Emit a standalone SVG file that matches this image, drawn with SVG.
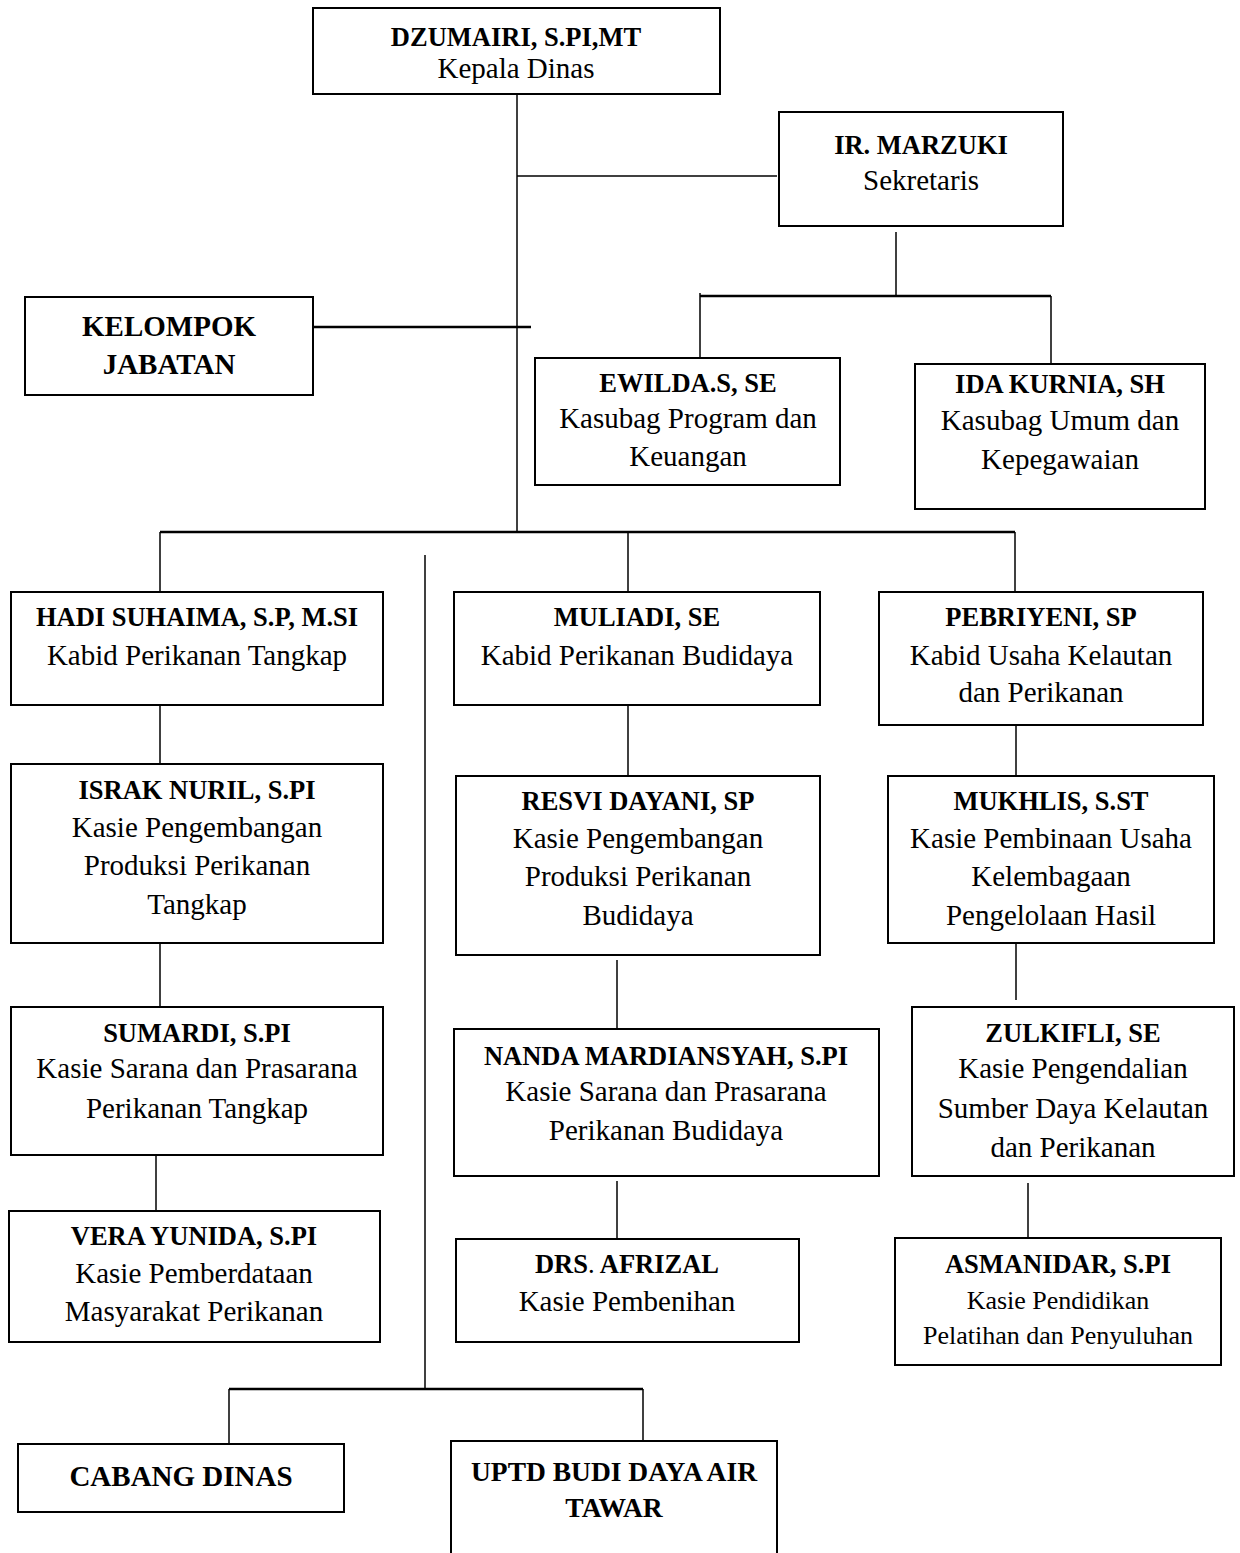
<svg xmlns="http://www.w3.org/2000/svg" width="1240" height="1553" viewBox="0 0 1240 1553">
<style>
.box{fill:#fff;stroke:#000;stroke-width:2}
.n{font-family:"Liberation Serif","Times New Roman",serif;font-weight:bold;font-size:26.5px;text-anchor:middle;fill:#000}
.t{font-family:"Liberation Serif","Times New Roman",serif;font-size:29px;text-anchor:middle;fill:#000}
.big{font-size:29px}
.sm{font-size:26px}
.cab{font-size:29px}
.up{font-size:27.5px}
.c{stroke:#000;stroke-width:1.5;fill:none}
.bus{stroke:#000;stroke-width:2.5;fill:none}
</style>
<rect width="1240" height="1553" fill="#fff"/>
<g id="connectors">
<line class="c" x1="517" y1="94" x2="517" y2="532"/>
<line class="c" x1="517" y1="176" x2="777" y2="176"/>
<line class="bus" x1="313" y1="327" x2="531" y2="327"/>
<line class="c" x1="896" y1="232" x2="896" y2="296"/>
<line class="bus" x1="700" y1="296" x2="1051" y2="296"/>
<line class="c" x1="700" y1="293" x2="700" y2="358"/>
<line class="c" x1="1051" y1="296" x2="1051" y2="364"/>
<line class="bus" x1="160" y1="532" x2="1015" y2="532"/>
<line class="c" x1="160" y1="532" x2="160" y2="592"/>
<line class="c" x1="628" y1="532" x2="628" y2="592"/>
<line class="c" x1="1015" y1="532" x2="1015" y2="592"/>
<line class="c" x1="425" y1="555" x2="425" y2="1389"/>
<line class="bus" x1="229" y1="1389" x2="643" y2="1389"/>
<line class="c" x1="229" y1="1389" x2="229" y2="1444"/>
<line class="c" x1="643" y1="1389" x2="643" y2="1441"/>
<line class="c" x1="160" y1="705" x2="160" y2="764"/>
<line class="c" x1="160" y1="943" x2="160" y2="1007"/>
<line class="c" x1="156" y1="1155" x2="156" y2="1211"/>
<line class="c" x1="628" y1="705" x2="628" y2="776"/>
<line class="c" x1="617" y1="960" x2="617" y2="1029"/>
<line class="c" x1="617" y1="1181" x2="617" y2="1239"/>
<line class="c" x1="1016" y1="725" x2="1016" y2="776"/>
<line class="c" x1="1016" y1="943" x2="1016" y2="1000"/>
<line class="c" x1="1028" y1="1183" x2="1028" y2="1238"/>
</g>
<g id="kepala">
<rect class="box" x="313" y="8" width="407" height="86"/>
<text class="n" x="516" y="46">DZUMAIRI, S.PI,MT</text>
<text class="t" x="516" y="78">Kepala Dinas</text>
</g>
<g id="sekretaris">
<rect class="box" x="779" y="112" width="284" height="114"/>
<text class="n" x="921" y="154">IR. MARZUKI</text>
<text class="t" x="921" y="190">Sekretaris</text>
</g>
<g id="kelompok">
<rect class="box" x="25" y="297" width="288" height="98"/>
<text class="n big" x="169" y="336">KELOMPOK</text>
<text class="n big" x="169" y="374">JABATAN</text>
</g>
<g id="ewilda">
<rect class="box" x="535" y="358" width="305" height="127"/>
<text class="n" x="688" y="392">EWILDA.S, SE</text>
<text class="t" x="688" y="428">Kasubag Program dan</text>
<text class="t" x="688" y="466">Keuangan</text>
</g>
<g id="ida">
<rect class="box" x="915" y="364" width="290" height="145"/>
<text class="n" x="1060" y="393">IDA KURNIA, SH</text>
<text class="t" x="1060" y="430">Kasubag Umum dan</text>
<text class="t" x="1060" y="469">Kepegawaian</text>
</g>
<g id="hadi">
<rect class="box" x="11" y="592" width="372" height="113"/>
<text class="n" x="197" y="626">HADI SUHAIMA, S.P, M.SI</text>
<text class="t" x="197" y="665">Kabid Perikanan Tangkap</text>
</g>
<g id="muliadi">
<rect class="box" x="454" y="592" width="366" height="113"/>
<text class="n" x="637" y="626">MULIADI, SE</text>
<text class="t" x="637" y="665">Kabid Perikanan Budidaya</text>
</g>
<g id="pebriyeni">
<rect class="box" x="879" y="592" width="324" height="133"/>
<text class="n" x="1041" y="626">PEBRIYENI, SP</text>
<text class="t" x="1041" y="665">Kabid Usaha Kelautan</text>
<text class="t" x="1041" y="702">dan Perikanan</text>
</g>
<g id="israk">
<rect class="box" x="11" y="764" width="372" height="179"/>
<text class="n" x="197" y="799">ISRAK NURIL, S.PI</text>
<text class="t" x="197" y="837">Kasie Pengembangan</text>
<text class="t" x="197" y="875">Produksi Perikanan</text>
<text class="t" x="197" y="914">Tangkap</text>
</g>
<g id="resvi">
<rect class="box" x="456" y="776" width="364" height="179"/>
<text class="n" x="638" y="810">RESVI DAYANI, SP</text>
<text class="t" x="638" y="848">Kasie Pengembangan</text>
<text class="t" x="638" y="886">Produksi Perikanan</text>
<text class="t" x="638" y="925">Budidaya</text>
</g>
<g id="mukhlis">
<rect class="box" x="888" y="776" width="326" height="167"/>
<text class="n" x="1051" y="810">MUKHLIS, S.ST</text>
<text class="t" x="1051" y="848">Kasie Pembinaan Usaha</text>
<text class="t" x="1051" y="886">Kelembagaan</text>
<text class="t" x="1051" y="925">Pengelolaan Hasil</text>
</g>
<g id="sumardi">
<rect class="box" x="11" y="1007" width="372" height="148"/>
<text class="n" x="197" y="1042">SUMARDI, S.PI</text>
<text class="t" x="197" y="1078">Kasie Sarana dan Prasarana</text>
<text class="t" x="197" y="1118">Perikanan Tangkap</text>
</g>
<g id="nanda">
<rect class="box" x="454" y="1029" width="425" height="147"/>
<text class="n" x="666" y="1065">NANDA MARDIANSYAH, S.PI</text>
<text class="t" x="666" y="1101">Kasie Sarana dan Prasarana</text>
<text class="t" x="666" y="1140">Perikanan Budidaya</text>
</g>
<g id="zulkifli">
<rect class="box" x="912" y="1007" width="322" height="169"/>
<text class="n" x="1073" y="1042">ZULKIFLI, SE</text>
<text class="t" x="1073" y="1078">Kasie Pengendalian</text>
<text class="t" x="1073" y="1118">Sumber Daya Kelautan</text>
<text class="t" x="1073" y="1157">dan Perikanan</text>
</g>
<g id="vera">
<rect class="box" x="9" y="1211" width="371" height="131"/>
<text class="n" x="194" y="1245">VERA YUNIDA, S.PI</text>
<text class="t" x="194" y="1283">Kasie Pemberdataan</text>
<text class="t" x="194" y="1321">Masyarakat Perikanan</text>
</g>
<g id="afrizal">
<rect class="box" x="456" y="1239" width="343" height="103"/>
<text class="n" x="627" y="1273">DRS<tspan font-weight="normal">.</tspan> AFRIZAL</text>
<text class="t" x="627" y="1311">Kasie Pembenihan</text>
</g>
<g id="asmanidar">
<rect class="box" x="895" y="1238" width="326" height="127"/>
<text class="n" x="1058" y="1273">ASMANIDAR, S.PI</text>
<text class="t sm" x="1058" y="1309">Kasie Pendidikan</text>
<text class="t sm" x="1058" y="1344">Pelatihan dan Penyuluhan</text>
</g>
<g id="cabang">
<rect class="box" x="18" y="1444" width="326" height="68"/>
<text class="n cab" x="181" y="1486">CABANG DINAS</text>
</g>
<g id="uptd">
<rect class="box" x="451" y="1441" width="326" height="130"/>
<text class="n up" x="614" y="1481">UPTD BUDI DAYA AIR</text>
<text class="n up" x="614" y="1517">TAWAR</text>
</g>
</svg>
